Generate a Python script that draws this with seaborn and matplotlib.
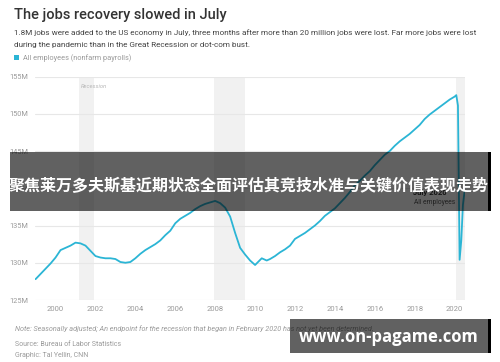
import matplotlib
matplotlib.use("Agg")
import matplotlib.pyplot as plt
from matplotlib.patches import Rectangle
import seaborn as sns
import pandas as pd

# ---- data (millions of jobs) ----
months = [
    "1999-01", "1999-04", "1999-07", "1999-10",
    "2000-01", "2000-04", "2000-07", "2000-10",
    "2001-01", "2001-04", "2001-07", "2001-10",
    "2002-01", "2002-04", "2002-07", "2002-10",
    "2003-01", "2003-04", "2003-07", "2003-10",
    "2004-01", "2004-04", "2004-07", "2004-10",
    "2005-01", "2005-04", "2005-07", "2005-10",
    "2006-01", "2006-04", "2006-07", "2006-10",
    "2007-01", "2007-04", "2007-07", "2007-10",
    "2008-01", "2008-04", "2008-07", "2008-10",
    "2009-01", "2009-04", "2009-07", "2009-10",
    "2010-01", "2010-05", "2010-08", "2010-10",
    "2011-01", "2011-04", "2011-07", "2011-10",
    "2012-01", "2012-04", "2012-07", "2012-10",
    "2013-01", "2013-04", "2013-07", "2013-10",
    "2014-01", "2014-04", "2014-07", "2014-10",
    "2015-01", "2015-04", "2015-07", "2015-10",
    "2016-01", "2016-04", "2016-07", "2016-10",
    "2017-01", "2017-04", "2017-07", "2017-10",
    "2018-01", "2018-04", "2018-07", "2018-10",
    "2019-01", "2019-04", "2019-07", "2019-10",
    "2020-01", "2020-02", "2020-03", "2020-04", "2020-05", "2020-06", "2020-07",
]
payrolls = [
    127.8, 128.5, 129.2, 129.9,
    130.7, 131.7, 132.0, 132.3,
    132.7, 132.6, 132.3, 131.6,
    130.9, 130.7, 130.6, 130.6,
    130.5, 130.1, 130.0, 130.1,
    130.6, 131.2, 131.7, 132.1,
    132.5, 133.0, 133.7, 134.3,
    135.3, 135.9, 136.3, 136.7,
    137.2, 137.6, 137.9, 138.1,
    138.3, 138.0, 137.4, 136.2,
    134.0, 132.0, 131.1, 130.3,
    129.7, 130.6, 130.3, 130.5,
    130.9, 131.4, 131.8, 132.3,
    133.2, 133.6, 134.0, 134.5,
    135.0, 135.6, 136.3, 136.8,
    137.3, 138.0, 138.7, 139.5,
    140.4, 141.0, 141.7, 142.3,
    143.1, 143.8, 144.5, 145.0,
    145.7, 146.3, 146.8, 147.3,
    147.9, 148.5, 149.3, 149.9,
    150.4, 150.9, 151.4, 151.9,
    152.3, 152.5, 151.1, 130.4, 133.0, 137.8, 139.6,
]
recession_starts = ["2001-03", "2007-12", "2020-02"]
recession_ends = ["2001-11", "2009-06", "2020-07"]
x_ticks = [2000, 2002, 2004, 2006, 2008, 2010, 2012, 2014, 2016, 2018, 2020]
y_ticks = [125, 130, 135, 140, 145, 150, 155]
y_tick_labels = ["125M", "130M", "135M", "140M", "145M", "150M", "155M"]


def to_year(s):
    y, m = s.split("-")
    return int(y) + (int(m) - 1) / 12.0


df = pd.DataFrame({"year": [to_year(m) for m in months], "jobs": payrolls})

sns.set_style("white")
plt.rcParams["font.family"] = ["Roboto", "DejaVu Sans"]

W, H = 500, 362
fig = plt.figure(figsize=(W / 100, H / 100), dpi=100)


def fx(x):
    return x / W


def fy(y):
    return 1 - y / H


ax = fig.add_axes([fx(35), fy(300), fx(465) - fx(35), fy(76.5) - fy(300)])

# recession shading
for s, e in zip(recession_starts, recession_ends):
    end = to_year(e) + (1 / 12.0 if e != "2020-07" else 0.05)
    ax.axvspan(to_year(s), end, color="#f1f1f1", lw=0, zorder=0)

for yv in y_ticks:
    ax.axhline(yv, color="#e7e7e7", lw=0.8, zorder=1)

sns.lineplot(data=df, x="year", y="jobs", ax=ax, color="#2bb5d5", lw=1.3, zorder=3)

ax.set_xlim(1998.97, 2020.52)
ax.set_ylim(125, 155)
ax.set_xticks(x_ticks)
ax.set_xticklabels([str(t) for t in x_ticks], fontsize=5.5, color="#9a9a9a")
ax.set_yticks(y_ticks)
ax.set_yticklabels(y_tick_labels, fontsize=5.3, color="#9a9a9a")
ax.tick_params(axis="both", length=0)
ax.tick_params(axis="x", pad=4)
ax.tick_params(axis="y", pad=5)
ax.set_xlabel("")
ax.set_ylabel("")
for sp in ax.spines.values():
    sp.set_visible(False)
ax.grid(False)

ax.text(to_year("2001-03") + 0.1, 154.0, "Recession", fontsize=4.2, style="italic",
        color="#b8b8b8", va="top", ha="left")

# end annotation (partly hidden by the banner)
fig.text(fx(413), fy(195), "July 2020", fontsize=5.5, fontweight="bold", color="#333333",
         ha="left", va="baseline")
fig.text(fx(435), fy(203.5), "All employees", fontsize=4.8, color="#555555",
         ha="center", va="baseline")

# header
fig.text(fx(14), fy(19), "The jobs recovery slowed in July", fontsize=10.5, color="#333333",
         ha="left", va="baseline", fontweight="medium")
fig.text(fx(14), fy(34.5),
         "1.8M jobs were added to the US economy in July, three months after more than 20 million jobs were lost. Far more jobs were lost",
         fontsize=5.9, color="#444444", ha="left", va="baseline")
fig.text(fx(14), fy(47.5),
         "during the pandemic than in the Great Recession or dot-com bust.",
         fontsize=5.9, color="#444444", ha="left", va="baseline")
fig.add_artist(Rectangle((fx(14), fy(60)), fx(5), fy(55) - fy(60), transform=fig.transFigure,
                         color="#2bb5d5", lw=0))
fig.text(fx(23), fy(60), "All employees (nonfarm payrolls)", fontsize=5.3, color="#999999",
         ha="left", va="baseline")

# footer
fig.text(fx(15), fy(331),
         "Note: Seasonally adjusted; An endpoint for the recession that began in February 2020 has not yet been determined.",
         fontsize=5.2, color="#9a9a9a", style="italic", ha="left", va="baseline")
fig.text(fx(15), fy(346.5), "Source: Bureau of Labor Statistics", fontsize=5.0,
         color="#9a9a9a", ha="left", va="baseline")
fig.text(fx(15), fy(357), "Graphic: Tal Yellin, CNN", fontsize=5.0,
         color="#9a9a9a", ha="left", va="baseline")

# overlay banners
fig.add_artist(Rectangle((fx(10), fy(211)), fx(488) - fx(10), fy(152) - fy(211),
                         transform=fig.transFigure, color="black", alpha=0.62, lw=0, zorder=10))
fig.add_artist(Rectangle((fx(488), fy(211)), fx(3), fy(152) - fy(211),
                         transform=fig.transFigure, color="black", lw=0, zorder=10))
t1 = fig.text(fx(249), fy(186), "聚焦莱万多夫斯基近期状态全面评估其竞技水准与关键价值表现走势",
              fontsize=11.5, color="white", fontweight="bold", ha="center", va="center",
              family=["Noto Sans CJK SC", "DejaVu Sans"])
t1.set_zorder(11)

fig.add_artist(Rectangle((fx(290), fy(353)), fx(488) - fx(290), fy(319) - fy(353),
                         transform=fig.transFigure, color="black", alpha=0.62, lw=0, zorder=10))
fig.add_artist(Rectangle((fx(488), fy(353)), fx(3), fy(319) - fy(353),
                         transform=fig.transFigure, color="black", lw=0, zorder=10))
t2 = fig.text(fx(389), fy(336.5), "www.on-pagame.com", fontsize=12, color="white",
              fontweight="bold", ha="center", va="center", family=["Open Sans", "DejaVu Sans"])
t2.set_zorder(11)

fig.savefig("out.png", dpi=100)
